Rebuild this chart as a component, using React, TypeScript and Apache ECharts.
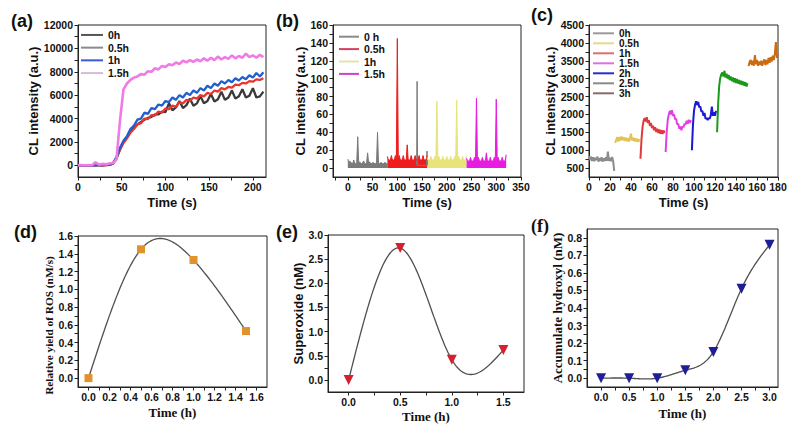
import React, { useEffect, useRef } from 'react';
import * as echarts from 'echarts';

// ---------- Panel (a): CL intensity, sampled every 4 s from t = 0 ----------
const A_STEP_S = 4;
const A_NAMES = ['0h', '0.5h', '1h', '1.5h'];
const A_0H = [0, 0, 0, 0, 10, 0, 10, 0, 10, 30,
  150, 600, 1400, 2000, 2400, 2900, 3200, 3500, 3700, 3900,
  4050, 4150, 4350, 4350, 4600, 4550, 5300, 4700, 4950, 5500,
  4900, 5150, 5700, 5100, 5300, 5900, 5300, 5500, 6100, 5450,
  5650, 6300, 5600, 5800, 6400, 5700, 5900, 6500, 5800, 5950,
  6600, 5800, 5900, 6300];
const A_05H = [0, 0, 0, 10, 0, 20, 10, 0, 20, 40,
  150, 600, 1300, 1900, 2300, 2800, 3100, 3500, 3600, 4000,
  3950, 4300, 4250, 4600, 4500, 4850, 4800, 5100, 5000, 5400,
  5300, 5600, 5500, 5800, 5700, 6000, 5900, 6200, 6100, 6400,
  6300, 6600, 6500, 6700, 6650, 6900, 6850, 7050, 7000, 7200,
  7150, 7350, 7300, 7450];
const A_1H = [0, 0, 10, 0, 20, 0, 30, 10, 40, 50,
  200, 700, 1500, 2100, 2500, 3100, 3400, 3900, 4000, 4500,
  4400, 4900, 4800, 5200, 5100, 5500, 5400, 5800, 5600, 6000,
  5800, 6200, 6000, 6400, 6200, 6600, 6400, 6800, 6600, 7000,
  6800, 7200, 7000, 7300, 7100, 7450, 7250, 7550, 7350, 7700,
  7500, 7900, 7600, 7950];
const A_15H = [0, 20, 0, 30, 10, 250, 60, 120, 80, 150,
  200, 500, 3800, 6500, 7000, 7300, 7500, 7600, 7800, 7750,
  8050, 8000, 8300, 8200, 8500, 8400, 8650, 8550, 8800, 8650,
  8950, 8800, 9000, 8850, 9050, 8900, 9150, 8950, 9200, 9000,
  9300, 9050, 9250, 9100, 9400, 9150, 9350, 9200, 9550, 9250,
  9400, 9200, 9450, 9250];
const A_COLORS = ['#3a3a3a', '#e8352e', '#1f5fd0', '#f07ae6'];
const A_LEGEND_COLORS = ['#555555', '#8a8a8a', '#3a5cc8', '#d8bcd8'];
const A_X_LABELS = [0, 50, 100, 150, 200];
const A_X_TICKS = [0, 25, 50, 75, 100, 125, 150, 175, 200];
const A_Y_LABELS = [0, 2000, 4000, 6000, 8000, 10000, 12000];
const A_Y_TICKS = [0, 1000, 2000, 3000, 4000, 5000, 6000, 7000, 8000, 9000, 10000, 11000, 12000];

// ---------- Panel (b): top envelope, sampled every 2 s inside each 80 s block ----------
const B_REL_T = [0, 2, 4, 6, 8, 10, 12, 14, 16, 18, 20, 22, 24, 26, 28, 30, 32, 34, 36, 38, 40,
  42, 44, 46, 48, 50, 52, 54, 56, 58, 60, 62, 64, 66, 68, 70, 72, 74, 76, 78, 80];
const B_STARTS = [0, 80, 160, 240];
const B_NAMES = ['0 h', '0.5h', '1h', '1.5h'];
const B_0H = [10, 5, 8, 5, 6, 5, 9, 5, 5, 6, 35, 5, 7, 5, 5, 6, 8, 5, 5, 6, 17,
  5, 7, 5, 5, 6, 6, 5, 5, 6, 40, 5, 5, 6, 6, 5, 5, 6, 6, 5, 5];
const B_05H = [13, 9, 9, 9, 14, 9, 9, 9, 14, 9, 145, 9, 14, 9, 9, 9, 14, 9, 9, 9, 26,
  9, 9, 9, 14, 9, 9, 9, 14, 9, 9, 9, 14, 9, 9, 9, 14, 9, 9, 9, 14];
const B_1H = [12, 9, 9, 9, 13, 9, 9, 9, 13, 9, 75, 9, 13, 9, 9, 9, 13, 9, 9, 9, 13,
  9, 9, 9, 13, 9, 9, 9, 13, 9, 76, 9, 13, 9, 9, 9, 13, 9, 9, 9, 13];
const B_15H = [11, 8, 8, 8, 12, 8, 8, 8, 12, 8, 78, 8, 12, 8, 8, 8, 12, 8, 8, 8, 17,
  8, 8, 8, 12, 8, 8, 8, 12, 8, 77, 8, 12, 8, 8, 8, 12, 8, 8, 8, 15];
// two extra grey spikes at 140 s and 160 s
const B_GREY_SPIKE_T = [139, 140, 141, 159, 160, 161];
const B_GREY_SPIKE_V = [3, 97, 3, 3, 19, 3];
const B_COLORS = ['#7a7a7a', '#ee1c1c', '#e8e47a', '#e81ce0'];
const B_LEGEND_COLORS = ['#8a8a8a', '#d64060', '#e6e0b4', '#d040d0'];
const B_X_LABELS = [0, 50, 100, 150, 200, 250, 300, 350];
const B_X_TICKS = [-25, 0, 25, 50, 75, 100, 125, 150, 175, 200, 225, 250, 275, 300, 325, 350];
const B_Y_LABELS = [0, 20, 40, 60, 80, 100, 120, 140, 160];
const B_Y_TICKS = [0, 10, 20, 30, 40, 50, 60, 70, 80, 90, 100, 110, 120, 130, 140, 150, 160];

// ---------- Panel (c): sampled every 1 s, one block per time ----------
const C_NAMES = ['0h', '0.5h', '1h', '1.5h', '2h', '2.5h', '3h'];
const C_STARTS = [0, 25, 49, 73, 98, 122, 152];
const C_0H = [840, 720, 820, 700, 800, 690, 790, 720, 820, 680, 780, 700, 800, 680, 770, 700, 800, 700, 960, 700, 790, 690, 810, 700, 420];
const C_05H = [1200, 1300, 1360, 1240, 1370, 1270, 1380, 1280, 1360, 1260, 1350, 1250, 1340, 1240, 1330, 1460, 1270, 1350, 1250, 1340, 1240, 1320, 1230, 1310];
const C_1H = [760, 1300, 1650, 1820, 1900, 1800, 1920, 1760, 1840, 1680, 1760, 1620, 1680, 1560, 1640, 1510, 1600, 1480, 1580, 1460, 1560, 1450, 1550, 1480];
const C_15H = [950, 1500, 1850, 2000, 2100, 2000, 2120, 1960, 2000, 1860, 1880, 1720, 1740, 1600, 1660, 1560, 1660, 1640, 1740, 1720, 1820, 1740, 1850, 1760, 1840];
const C_2H = [1000, 1700, 2100, 2270, 2370, 2260, 2350, 2200, 2220, 2080, 2100, 1960, 2040, 1880, 1900, 1840, 1900, 1880, 1980, 2220, 1960, 2060, 1960, 2100];
const C_25H = [1500, 2300, 2800, 3020, 3120, 3170, 3060, 3220, 3030, 3140, 3000, 3100, 2960, 3060, 2930, 3030, 2900, 3010, 2880, 2990, 2860, 2960, 2840, 2940, 2820, 2920, 2800, 2900, 2780, 2870];
const C_3H = [3350, 3470, 3520, 3380, 3500, 3360, 3660, 3400, 3520, 3360, 3480, 3380, 3500, 3360, 3470, 3540, 3380, 3520, 3400, 3580, 3440, 3600, 3480, 3640, 3520, 3700, 4020, 3580, 3670];
const C_COLORS = ['#8c8c8c', '#e2c454', '#e23a3a', '#e040e0', '#1a1ad2', '#1a9a1a', '#cc6a10'];
const C_LEGEND_COLORS = ['#9a9a9a', '#e6d890', '#dc7070', '#e070e0', '#2a2ad0', '#8a8a8a', '#8a6a6a'];
const C_X_LABELS = [0, 20, 40, 60, 80, 100, 120, 140, 160, 180];
const C_X_TICKS = [0, 10, 20, 30, 40, 50, 60, 70, 80, 90, 100, 110, 120, 130, 140, 150, 160, 170, 180];
const C_Y_LABELS = [500, 1000, 1500, 2000, 2500, 3000, 3500, 4000, 4500];
const C_Y_TICKS = [500, 750, 1000, 1250, 1500, 1750, 2000, 2250, 2500, 2750, 3000, 3250, 3500, 3750, 4000, 4250, 4500];

// ---------- Panel (d) ----------
const D_TIME = [0, 0.5, 1.0, 1.5];
const D_ROS = [0, 1.45, 1.33, 0.53];
const D_X_LABELS = [0, 0.2, 0.4, 0.6, 0.8, 1.0, 1.2, 1.4, 1.6];
const D_X_TICKS = [0, 0.1, 0.2, 0.3, 0.4, 0.5, 0.6, 0.7, 0.8, 0.9, 1.0, 1.1, 1.2, 1.3, 1.4, 1.5, 1.6];
const D_Y_LABELS = [0, 0.2, 0.4, 0.6, 0.8, 1.0, 1.2, 1.4, 1.6];
const D_Y_TICKS = [0, 0.1, 0.2, 0.3, 0.4, 0.5, 0.6, 0.7, 0.8, 0.9, 1.0, 1.1, 1.2, 1.3, 1.4, 1.5, 1.6];

// ---------- Panel (e) ----------
const E_TIME = [0, 0.5, 1.0, 1.5];
const E_SUPEROXIDE = [0, 2.73, 0.42, 0.62];
const E_X_LABELS = [0, 0.5, 1.0, 1.5];
const E_X_TICKS = [0, 0.25, 0.5, 0.75, 1.0, 1.25, 1.5];
const E_Y_LABELS = [0, 0.5, 1.0, 1.5, 2.0, 2.5, 3.0];
const E_Y_TICKS = [0, 0.25, 0.5, 0.75, 1.0, 1.25, 1.5, 1.75, 2.0, 2.25, 2.5, 2.75, 3.0];

// ---------- Panel (f) ----------
const F_TIME = [0, 0.5, 1.0, 1.5, 2.0, 2.5, 3.0];
const F_HYDROXYL = [0, 0, 0, 0.045, 0.15, 0.51, 0.76];
const F_X_LABELS = [0, 0.5, 1.0, 1.5, 2.0, 2.5, 3.0];
const F_X_TICKS = [0, 0.25, 0.5, 0.75, 1.0, 1.25, 1.5, 1.75, 2.0, 2.25, 2.5, 2.75, 3.0];
const F_Y_LABELS = [0, 0.1, 0.2, 0.3, 0.4, 0.5, 0.6, 0.7, 0.8];
const F_Y_TICKS = [0, 0.05, 0.1, 0.15, 0.2, 0.25, 0.3, 0.35, 0.4, 0.45, 0.5, 0.55, 0.6, 0.65, 0.7, 0.75, 0.8];

const SANS = "'Liberation Sans', Arial, sans-serif";
const SERIF = "'Liberation Serif', 'Times New Roman', serif";
const AX = '#222';
const TXT = '#111';
const CURVE = '#505050';

function axis(kind: 'x' | 'y', gridIndex: number, min: number, max: number, labels: number[], ticks: number[],
  name: string, nameFont: string, nameSize: number, nameGap: number, decimals: number, namePadding?: number[]) {
  return {
    type: 'value', gridIndex, min, max, name,
    nameLocation: 'middle', nameGap,
    nameTextStyle: { fontFamily: nameFont, fontWeight: 'bold', fontSize: nameSize, color: TXT, padding: namePadding || 0 },
    axisLine: { show: true, onZero: false, lineStyle: { color: AX, width: 1 } },
    axisTick: { show: true, customValues: ticks, length: 3.5, lineStyle: { color: AX, width: 1 } },
    axisLabel: {
      customValues: labels, margin: kind === 'x' ? 4 : 5,
      fontFamily: SANS, fontWeight: 'bold', fontSize: 10.5, color: TXT,
      formatter: (v: number) => (decimals > 0 ? Number(v).toFixed(decimals) : String(v)),
    },
    splitLine: { show: false },
  };
}

function legend(names: string[], colors: string[], left: number, top: number, itemWidth: number, fontSize: number, lineHeight: number) {
  return {
    orient: 'vertical', left, top, padding: 0, itemGap: 0,
    itemWidth, itemHeight: 2, icon: 'rect', selectedMode: false,
    textStyle: { fontFamily: SANS, fontWeight: 'bold', fontSize, color: TXT, lineHeight },
    data: names.map((n, i) => ({ name: n, itemStyle: { color: colors[i] } })),
  };
}

function lineSeries(name: string, idx: number, data: any[], color: string, width: number, area?: boolean) {
  const s: any = {
    type: 'line', name, xAxisIndex: idx, yAxisIndex: idx, data,
    symbol: 'none', showSymbol: false, lineStyle: { color, width }, itemStyle: { color },
  };
  if (area) s.areaStyle = { color, opacity: 1, origin: 'auto' };
  return s;
}

// natural cubic spline through the measured points (Origin "spline" connection)
function naturalSpline(xs: number[], ys: number[]) {
  const n = xs.length;
  const h: number[] = [];
  for (let i = 0; i < n - 1; i++) h.push(xs[i + 1] - xs[i]);
  const a: number[] = new Array(n).fill(0), b: number[] = new Array(n).fill(1), c: number[] = new Array(n).fill(0), d: number[] = new Array(n).fill(0);
  for (let i = 1; i < n - 1; i++) {
    a[i] = h[i - 1] / 6; b[i] = (h[i - 1] + h[i]) / 3; c[i] = h[i] / 6;
    d[i] = (ys[i + 1] - ys[i]) / h[i] - (ys[i] - ys[i - 1]) / h[i - 1];
  }
  const M = new Array(n).fill(0);
  const cp = new Array(n).fill(0), dp = new Array(n).fill(0);
  for (let i = 1; i < n; i++) {
    const m = b[i] - a[i] * cp[i - 1];
    cp[i] = c[i] / m; dp[i] = (d[i] - a[i] * dp[i - 1]) / m;
  }
  for (let i = n - 1; i >= 0; i--) M[i] = dp[i] - cp[i] * (i < n - 1 ? M[i + 1] : 0);
  return (x: number) => {
    let i = 0;
    while (i < n - 2 && x > xs[i + 1]) i++;
    const hi = h[i], t1 = xs[i + 1] - x, t0 = x - xs[i];
    return M[i] * t1 * t1 * t1 / (6 * hi) + M[i + 1] * t0 * t0 * t0 / (6 * hi)
      + (ys[i] / hi - M[i] * hi / 6) * t1 + (ys[i + 1] / hi - M[i + 1] * hi / 6) * t0;
  };
}

function splineSeries(idx: number, xs: number[], ys: number[]) {
  const f = naturalSpline(xs, ys);
  return {
    type: 'custom', xAxisIndex: idx, yAxisIndex: idx, silent: true, z: 2,
    data: xs.map((x, i) => [x, ys[i]]),
    renderItem: (params: any, api: any) => {
      if (params.dataIndex !== 0) return null;
      const pts: number[][] = [];
      const x0 = xs[0], x1 = xs[xs.length - 1];
      const steps = 160;
      for (let k = 0; k <= steps; k++) {
        const x = x0 + (x1 - x0) * k / steps;
        pts.push(api.coord([x, f(x)]));
      }
      return { type: 'polyline', shape: { points: pts }, style: { stroke: CURVE, lineWidth: 1.3, fill: 'none' } };
    },
  };
}

function markerSeries(name: string, idx: number, xs: number[], ys: number[], symbol: string, rotate: number, size: number, color: string) {
  return {
    type: 'scatter', name, xAxisIndex: idx, yAxisIndex: idx, z: 3,
    data: xs.map((x, i) => [x, ys[i]]),
    symbol, symbolRotate: rotate, symbolSize: size, itemStyle: { color, opacity: 1 },
  };
}

export default function App() {
  const ref = useRef<HTMLDivElement>(null);
  useEffect(() => {
    if (!ref.current) return;
    const chart = echarts.init(ref.current, null, { renderer: 'svg' });

    const grids = [
      { left: 78, top: 25, width: 188, height: 152 },
      { left: 333, top: 25, width: 188, height: 152 },
      { left: 589, top: 25, width: 189, height: 152 },
      { left: 78, top: 236, width: 189, height: 151 },
      { left: 328, top: 235, width: 196, height: 157 },
      { left: 587, top: 229, width: 191, height: 158 },
    ].map((g) => ({ ...g, show: true, borderColor: AX, borderWidth: 1, backgroundColor: 'transparent', containLabel: false, outerBoundsMode: 'none' }));

    const xAxes = [
      axis('x', 0, 0, 215, A_X_LABELS, A_X_TICKS, 'Time (s)', SANS, 13, 19, 0),
      axis('x', 1, -30, 350, B_X_LABELS, B_X_TICKS, 'Time (s)', SANS, 13, 19, 0),
      axis('x', 2, 0, 180, C_X_LABELS, C_X_TICKS, 'Time (s)', SANS, 13, 19, 0),
      axis('x', 3, -0.1, 1.7, D_X_LABELS, D_X_TICKS, 'Time (h)', SERIF, 13, 19, 1),
      axis('x', 4, -0.2, 1.7, E_X_LABELS, E_X_TICKS, 'Time (h)', SERIF, 13, 18, 1),
      axis('x', 5, -0.25, 3.15, F_X_LABELS, F_X_TICKS, 'Time (h)', SERIF, 13, 20, 1),
    ];
    const yAxes = [
      axis('y', 0, -1000, 12000, A_Y_LABELS, A_Y_TICKS, 'CL intensity (a.u.)', SANS, 13, 36, 0),
      axis('y', 1, -10, 160, B_Y_LABELS, B_Y_TICKS, 'CL intensity (a.u.)', SANS, 13, 26, 0),
      axis('y', 2, 250, 4500, C_Y_LABELS, C_Y_TICKS, 'CL intensity (a.u.)', SANS, 13, 32, 0),
      axis('y', 3, -0.1, 1.6, D_Y_LABELS, D_Y_TICKS, 'Relative yield of ROS (nM/s)', SERIF, 11.3, 21.5, 1, [0, 28, 0, 0]),
      axis('y', 4, -0.25, 3.0, E_Y_LABELS, E_Y_TICKS, 'Superoxide (nM)', SANS, 13, 23, 1),
      axis('y', 5, -0.05, 0.85, F_Y_LABELS, F_Y_TICKS, 'Accumulate hydroxyl (nM)', SERIF, 13, 18, 1),
    ];

    const series: any[] = [];
    // (a)
    [A_0H, A_05H, A_1H, A_15H].forEach((vals, s) => {
      series.push(lineSeries(A_NAMES[s], 0, vals.map((v, i) => [i * A_STEP_S, v]), A_COLORS[s], s === 3 ? 2.6 : 2.3));
    });
    // (b)
    series.push(lineSeries(B_NAMES[0], 1, B_GREY_SPIKE_T.map((t, i) => [t, B_GREY_SPIKE_V[i]]), B_COLORS[0], 1));
    [B_0H, B_05H, B_1H, B_15H].forEach((vals, s) => {
      series.push(lineSeries(B_NAMES[s], 1, vals.map((v, i) => [B_STARTS[s] + B_REL_T[i], v]), B_COLORS[s], 1, true));
    });
    // (c)
    [C_0H, C_05H, C_1H, C_15H, C_2H, C_25H, C_3H].forEach((vals, s) => {
      series.push(lineSeries(C_NAMES[s], 2, vals.map((v, i) => [C_STARTS[s] + i, v]), C_COLORS[s], 2));
    });
    // (d)(e)(f)
    series.push(splineSeries(3, D_TIME, D_ROS));
    series.push(markerSeries('ROS', 3, D_TIME, D_ROS, 'rect', 0, 8, '#e0922e'));
    series.push(splineSeries(4, E_TIME, E_SUPEROXIDE));
    series.push(markerSeries('Superoxide', 4, E_TIME, E_SUPEROXIDE, 'triangle', 180, 10, '#d42030'));
    series.push(splineSeries(5, F_TIME, F_HYDROXYL));
    series.push(markerSeries('Hydroxyl', 5, F_TIME, F_HYDROXYL, 'triangle', 180, 10, '#1e1e96'));

    const panelLabel = (text: string, x: number, y: number, font: string) => ({
      type: 'text', x, y,
      style: { text, fontFamily: font, fontWeight: 'bold', fontSize: 18, fill: TXT, verticalAlign: 'middle' },
    });

    chart.setOption({
      animation: false,
      backgroundColor: '#ffffff',
      grid: grids,
      xAxis: xAxes,
      yAxis: yAxes,
      legend: [
        legend(A_NAMES, A_LEGEND_COLORS, 81, 28.6, 22, 10.5, 12.7),
        legend(B_NAMES, B_LEGEND_COLORS, 339, 30.5, 20, 10.5, 12.4),
        legend(C_NAMES, C_LEGEND_COLORS, 593, 28.3, 21, 10, 9.33),
      ],
      graphic: [
        panelLabel('(a)', 11, 21, SANS),
        panelLabel('(b)', 276, 21, SANS),
        panelLabel('(c)', 531, 15, SANS),
        panelLabel('(d)', 14, 232, SANS),
        panelLabel('(e)', 276, 232, SANS),
        panelLabel('(f)', 531, 226, SERIF),
      ],
      series,
    });
    return () => chart.dispose();
  }, []);
  return <div ref={ref} style={{ position: 'fixed', left: 0, top: 0, width: 799, height: 430, background: '#fff' }} />;
}
